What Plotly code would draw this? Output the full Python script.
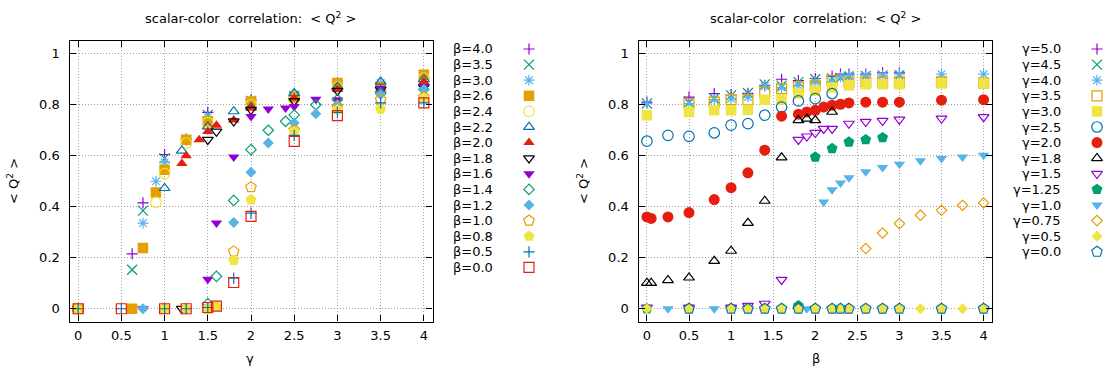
import plotly.graph_objects as go

# ---------------- data: left panel (x = gamma, series by beta) ----------------
L_LABELS = ["β=4.0", "β=3.5", "β=3.0", "β=2.6", "β=2.4", "β=2.2", "β=2.0", "β=1.8",
            "β=1.6", "β=1.4", "β=1.2", "β=1.0", "β=0.8", "β=0.5", "β=0.0"]

L_B40_X = [0, 0.625, 0.75, 1.0, 1.25, 1.5, 2.0, 2.5, 3.0, 3.5, 4.0]
L_B40_Y = [0, 0.215, 0.415, 0.605, 0.665, 0.77, 0.82, 0.83, 0.885, 0.86, 0.905]
L_B35_X = [0, 0.625, 0.75, 1.0, 1.25, 1.5, 2.0, 2.5, 3.0, 3.5, 4.0]
L_B35_Y = [0, 0.153, 0.385, 0.59, 0.66, 0.76, 0.815, 0.835, 0.875, 0.87, 0.89]
L_B30_X = [0, 0.75, 0.9, 1.0, 1.25, 1.5, 2.0, 2.5, 3.0, 3.5, 4.0]
L_B30_Y = [0, 0.336, 0.5, 0.575, 0.66, 0.75, 0.81, 0.84, 0.87, 0.885, 0.9]
L_B26_X = [0, 0.625, 0.75, 0.9, 1.0, 1.25, 1.5, 2.0, 2.5, 3.0, 3.5, 4.0]
L_B26_Y = [0, 0, 0.238, 0.456, 0.545, 0.663, 0.735, 0.813, 0.83, 0.885, 0.87, 0.918]
L_B24_X = [0, 0.9, 1.0, 1.25, 1.5, 2.0, 2.5, 3.0, 3.5, 4.0]
L_B24_Y = [0, 0.417, 0.53, 0.65, 0.73, 0.8, 0.82, 0.87, 0.855, 0.905]
L_B22_X = [0, 1.0, 1.2, 1.5, 1.8, 2.0, 2.5, 3.0, 3.5, 4.0]
L_B22_Y = [0, 0.473, 0.62, 0.715, 0.774, 0.79, 0.845, 0.87, 0.89, 0.9]
L_B20_X = [0, 1.2, 1.25, 1.4, 1.5, 1.6, 1.8, 2.0, 2.5, 3.0, 3.5, 4.0]
L_B20_Y = [0, 0.57, 0.6, 0.663, 0.695, 0.72, 0.74, 0.787, 0.826, 0.86, 0.86, 0.89]
L_B18_X = [0, 1.2, 1.5, 1.6, 1.8, 2.0, 2.5, 3.0, 3.5, 4.0]
L_B18_Y = [0, 0, 0.663, 0.695, 0.735, 0.78, 0.815, 0.855, 0.86, 0.87]
L_B16_X = [0, 0.75, 1.5, 1.6, 1.8, 2.0, 2.2, 2.4, 2.5, 2.75, 3.0, 3.5, 4.0]
L_B16_Y = [0, 0, 0.116, 0.336, 0.595, 0.754, 0.783, 0.787, 0.793, 0.822, 0.82, 0.865, 0.872]
L_B14_X = [0, 1.5, 1.6, 1.8, 2.0, 2.2, 2.4, 2.5, 2.75, 3.0, 3.5, 4.0]
L_B14_Y = [0, 0.02, 0.127, 0.425, 0.624, 0.7, 0.735, 0.76, 0.8, 0.82, 0.846, 0.86]
L_B12_X = [0, 0.75, 1.25, 1.5, 1.8, 2.0, 2.2, 2.5, 2.75, 3.0, 3.5, 4.0]
L_B12_Y = [0, 0, 0, 0, 0.338, 0.535, 0.65, 0.728, 0.765, 0.8, 0.84, 0.86]
L_B10_X = [0, 1.0, 1.5, 1.8, 2.0, 2.5, 3.0, 3.5, 4.0]
L_B10_Y = [0, 0, 0, 0.225, 0.477, 0.7, 0.79, 0.82, 0.83]
L_B08_X = [0, 1.0, 1.25, 1.5, 1.6, 1.8, 2.0, 2.5, 3.0, 3.5, 4.0]
L_B08_Y = [0, 0, 0, 0, 0.01, 0.19, 0.427, 0.695, 0.78, 0.783, 0.826]
L_B05_X = [0, 0.5, 1.0, 1.25, 1.5, 1.8, 2.0, 2.5, 3.0, 3.5, 4.0]
L_B05_Y = [0, 0, 0, 0, 0.005, 0.12, 0.375, 0.68, 0.77, 0.807, 0.807]
L_B00_X = [0, 0.5, 1.0, 1.25, 1.5, 1.6, 1.8, 2.0, 2.5, 3.0, 4.0]
L_B00_Y = [0, 0, 0, 0, 0.005, 0.01, 0.103, 0.362, 0.656, 0.757, 0.807]

# ---------------- data: right panel (x = beta, series by gamma) ----------------
R_LABELS = ["γ=5.0", "γ=4.5", "γ=4.0", "γ=3.5", "γ=3.0", "γ=2.5", "γ=2.0", "γ=1.8",
            "γ=1.5", "γ=1.25", "γ=1.0", "γ=0.75", "γ=0.5", "γ=0.0"]

R_G50_X = [0, 0.5, 0.8, 1.0, 1.2, 1.4, 1.6, 1.8, 2.0, 2.2, 2.3, 2.4, 2.6, 2.8, 3.0]
R_G50_Y = [0.81, 0.83, 0.844, 0.84, 0.845, 0.876, 0.9, 0.895, 0.903, 0.912, 0.92, 0.92, 0.92, 0.925, 0.925]
R_G45_X = [0, 0.5, 0.8, 1.0, 1.2, 1.4, 1.6, 1.8, 2.0, 2.2, 2.3, 2.4, 2.6, 2.8, 3.0]
R_G45_Y = [0.805, 0.81, 0.825, 0.837, 0.846, 0.88, 0.875, 0.889, 0.9, 0.903, 0.905, 0.91, 0.912, 0.915, 0.915]
R_G40_X = [0, 0.5, 0.8, 1.0, 1.2, 1.4, 1.6, 1.8, 2.0, 2.2, 2.3, 2.4, 2.6, 2.8, 3.0, 3.5, 4.0]
R_G40_Y = [0.805, 0.805, 0.82, 0.824, 0.83, 0.873, 0.867, 0.876, 0.889, 0.89, 0.909, 0.916, 0.916, 0.916, 0.92, 0.92, 0.92]
R_G35_X = [0.5, 0.8, 1.0, 1.2, 1.4, 1.6, 1.8, 2.0, 2.2, 2.4, 2.6, 2.8, 3.0, 3.5, 4.0]
R_G35_Y = [0.805, 0.81, 0.82, 0.82, 0.85, 0.863, 0.87, 0.876, 0.896, 0.89, 0.89, 0.89, 0.89, 0.89, 0.885]
R_G30_X = [0, 0.5, 0.8, 1.0, 1.2, 1.4, 1.6, 1.8, 2.0, 2.2, 2.4, 2.6, 2.8, 3.0, 3.5, 4.0]
R_G30_Y = [0.759, 0.772, 0.778, 0.778, 0.78, 0.82, 0.82, 0.844, 0.855, 0.868, 0.876, 0.88, 0.88, 0.88, 0.883, 0.883]
R_G25_X = [0, 0.25, 0.5, 0.8, 1.0, 1.2, 1.4, 1.6, 1.8, 2.0, 2.2]
R_G25_Y = [0.657, 0.68, 0.676, 0.69, 0.72, 0.726, 0.759, 0.791, 0.815, 0.824, 0.844]
R_G20_X = [0, 0.05, 0.25, 0.5, 0.8, 1.0, 1.2, 1.4, 1.6, 1.8, 1.9, 2.0, 2.1, 2.2, 2.3, 2.4, 2.6, 2.8, 3.0, 3.5, 4.0]
R_G20_Y = [0.36, 0.354, 0.36, 0.377, 0.428, 0.475, 0.533, 0.622, 0.755, 0.763, 0.772, 0.778, 0.791,
           0.798, 0.802, 0.807, 0.81, 0.81, 0.81, 0.818, 0.82]
R_G18_X = [0, 0.05, 0.25, 0.5, 0.8, 1.0, 1.2, 1.4, 1.6, 1.8, 1.9, 2.0, 2.2]
R_G18_Y = [0.101, 0.101, 0.112, 0.122, 0.187, 0.227, 0.336, 0.423, 0.593, 0.739, 0.745, 0.739, 0.772]
R_G15_X = [0, 0.5, 1.0, 1.2, 1.4, 1.6, 1.8, 1.9, 2.0, 2.1, 2.2, 2.4, 2.6, 2.8, 3.0, 3.5, 4.0]
R_G15_Y = [0.005, 0.005, 0.005, 0.012, 0.02, 0.114, 0.663, 0.676, 0.69, 0.706, 0.706, 0.726, 0.733,
           0.737, 0.742, 0.746, 0.752]
R_G125_X = [0, 1.8, 2.0, 2.2, 2.4, 2.6, 2.8]
R_G125_Y = [0.0, 0.012, 0.595, 0.628, 0.654, 0.663, 0.671]
R_G10_X = [0, 0.25, 0.8, 1.9, 2.1, 2.2, 2.3, 2.4, 2.6, 2.8, 3.0, 3.25, 3.5, 3.75, 4.0]
R_G10_Y = [0, 0, 0, 0, 0.419, 0.467, 0.493, 0.514, 0.537, 0.554, 0.567, 0.58, 0.589, 0.595, 0.602]
R_G075_X = [2.6, 2.8, 3.0, 3.25, 3.5, 3.75, 4.0]
R_G075_Y = [0.236, 0.297, 0.334, 0.367, 0.386, 0.406, 0.415]
R_G05_X = [0, 0.5, 1.0, 1.2, 1.4, 1.6, 1.8, 2.0, 2.2, 2.3, 2.4, 2.6, 2.8, 3.0, 3.25, 3.5, 3.75, 4.0]
R_G05_Y = [0] * 18
R_G00_X = [0.5, 1.0, 1.2, 1.4, 1.6, 1.8, 2.0, 2.2, 2.3, 2.4, 2.6, 2.8, 3.0, 3.5, 4.0]
R_G00_Y = [0] * 15

X_TICKS = [0, 0.5, 1, 1.5, 2, 2.5, 3, 3.5, 4]
Y_TICKS = [0, 0.2, 0.4, 0.6, 0.8, 1]

# ---------------- styles ----------------
PURPLE, GREEN, SKY, ORANGE = "#9400d3", "#009e73", "#56b4e9", "#e69f00"
YELLOW, BLUE, RED, BLACK = "#f0e442", "#0072b2", "#e51e10", "#000000"

SIZES = {"cross-thin-open": 8, "x-thin-open": 10, "asterisk-open": 9,
         "square": 10.5, "square-open": 10, "circle": 11, "circle-open": 10.5,
         "triangle-up": 10, "triangle-up-open": 9.5, "triangle-down": 10,
         "triangle-down-open": 9.5, "diamond": 8.5, "diamond-open": 8,
         "pentagon": 11.5, "pentagon-open": 11}

LEFT = [(L_B40_X, L_B40_Y, PURPLE, "cross-thin-open"),
        (L_B35_X, L_B35_Y, GREEN, "x-thin-open"),
        (L_B30_X, L_B30_Y, SKY, "asterisk-open"),
        (L_B26_X, L_B26_Y, ORANGE, "square"),
        (L_B24_X, L_B24_Y, YELLOW, "circle-open"),
        (L_B22_X, L_B22_Y, BLUE, "triangle-up-open"),
        (L_B20_X, L_B20_Y, RED, "triangle-up"),
        (L_B18_X, L_B18_Y, BLACK, "triangle-down-open"),
        (L_B16_X, L_B16_Y, PURPLE, "triangle-down"),
        (L_B14_X, L_B14_Y, GREEN, "diamond-open"),
        (L_B12_X, L_B12_Y, SKY, "diamond"),
        (L_B10_X, L_B10_Y, ORANGE, "pentagon-open"),
        (L_B08_X, L_B08_Y, YELLOW, "pentagon"),
        (L_B05_X, L_B05_Y, BLUE, "cross-thin-open"),
        (L_B00_X, L_B00_Y, RED, "square-open")]

RIGHT = [(R_G50_X, R_G50_Y, PURPLE, "cross-thin-open"),
         (R_G45_X, R_G45_Y, GREEN, "x-thin-open"),
         (R_G40_X, R_G40_Y, SKY, "asterisk-open"),
         (R_G35_X, R_G35_Y, ORANGE, "square-open"),
         (R_G30_X, R_G30_Y, YELLOW, "square"),
         (R_G25_X, R_G25_Y, BLUE, "circle-open"),
         (R_G20_X, R_G20_Y, RED, "circle"),
         (R_G18_X, R_G18_Y, BLACK, "triangle-up-open"),
         (R_G15_X, R_G15_Y, PURPLE, "triangle-down-open"),
         (R_G125_X, R_G125_Y, GREEN, "pentagon"),
         (R_G10_X, R_G10_Y, SKY, "triangle-down"),
         (R_G075_X, R_G075_Y, ORANGE, "diamond-open"),
         (R_G05_X, R_G05_Y, YELLOW, "diamond"),
         (R_G00_X, R_G00_Y, BLUE, "pentagon-open")]

W, H = 1110, 370
FONT = "DejaVu Sans"


def marker(color, sym):
    return dict(symbol=sym, size=SIZES[sym], color=color,
                line=dict(color=color, width=1.2 if sym.endswith("open") else 0))


fig = go.Figure()
for xs, ys, c, s in LEFT:
    fig.add_trace(go.Scatter(x=xs, y=ys, mode="markers", marker=marker(c, s),
                             xaxis="x", yaxis="y", showlegend=False, hoverinfo="skip"))
for xs, ys, c, s in RIGHT:
    fig.add_trace(go.Scatter(x=xs, y=ys, mode="markers", marker=marker(c, s),
                             xaxis="x2", yaxis="y2", showlegend=False, hoverinfo="skip"))

# ---------------- custom legends (right-aligned text, symbol on the right) ----------------
ROW0, ROWSTEP = 49, 15.6
annotations = []
for labels, series, text_x, sym_x in [(L_LABELS, LEFT, 495, 529), (R_LABELS, RIGHT, 1063, 1097)]:
    for i, (lab, (_, _, c, s)) in enumerate(zip(labels, series)):
        yy = ROW0 + ROWSTEP * i
        fig.add_trace(go.Scatter(x=[sym_x], y=[yy], mode="markers", marker=marker(c, s),
                                 xaxis="x3", yaxis="y3", showlegend=False, hoverinfo="skip"))
        annotations.append(dict(text=lab, x=text_x / W, y=1 - yy / H, xref="paper", yref="paper",
                                xanchor="right", yanchor="middle", showarrow=False,
                                font=dict(family=FONT, size=13, color="black")))

# titles and axis labels
TITLE = "scalar-color\u00a0 correlation:\u00a0 &lt; Q<sup>2</sup> &gt;"
for tx in (250, 815):
    annotations.append(dict(text=TITLE, x=tx / W, y=1 - 18 / H, xref="paper", yref="paper",
                            xanchor="center", yanchor="middle", showarrow=False,
                            font=dict(family=FONT, size=13, color="black")))
for tx in (13, 583):
    annotations.append(dict(text="&lt; Q<sup>2</sup> &gt;", x=tx / W, y=1 - 181 / H, xref="paper",
                            yref="paper", xanchor="center", yanchor="middle", showarrow=False,
                            textangle=-90, font=dict(family=FONT, size=13, color="black")))
for tx, lab in ((250, "γ"), (816, "β")):
    annotations.append(dict(text=lab, x=tx / W, y=1 - 358 / H, xref="paper", yref="paper",
                            xanchor="center", yanchor="middle", showarrow=False,
                            font=dict(family=FONT, size=13, color="black")))

common_x = dict(range=[-0.1, 4.1], tickmode="array", tickvals=X_TICKS, ticks="inside",
                ticklen=6, tickcolor="black", showline=True, linecolor="black", linewidth=1.2,
                mirror="ticks", showgrid=True, gridcolor="#a0a0a0", griddash="1px,2px",
                gridwidth=1, zeroline=False, ticklabelstandoff=2,
                tickfont=dict(family=FONT, size=13, color="black"))
common_y = dict(range=[-0.05, 1.05], tickmode="array", tickvals=Y_TICKS, ticks="inside",
                ticklen=6, tickcolor="black", showline=True, linecolor="black", linewidth=1.2,
                mirror="ticks", showgrid=True, gridcolor="#a0a0a0", griddash="1px,2px",
                gridwidth=1, zeroline=False, ticklabelstandoff=6,
                tickfont=dict(family=FONT, size=13, color="black"))

ydom = [(H - 321.5) / H, (H - 41) / H]
fig.update_layout(
    width=W, height=H, margin=dict(l=0, r=0, t=0, b=0),
    paper_bgcolor="white", plot_bgcolor="rgba(0,0,0,0)",
    xaxis=dict(domain=[69.5 / W, 432.5 / W], anchor="y", **common_x),
    yaxis=dict(domain=ydom, anchor="x", **common_y),
    xaxis2=dict(domain=[638.5 / W, 992 / W], anchor="y2", **common_x),
    yaxis2=dict(domain=ydom, anchor="x2", **common_y),
    xaxis3=dict(domain=[0, 1], range=[0, W], visible=False, anchor="y3", fixedrange=True),
    yaxis3=dict(domain=[0, 1], range=[H, 0], visible=False, anchor="x3", fixedrange=True),
    annotations=annotations,
    font=dict(family=FONT, size=13, color="black"),
)

fig.write_html("out.html")
